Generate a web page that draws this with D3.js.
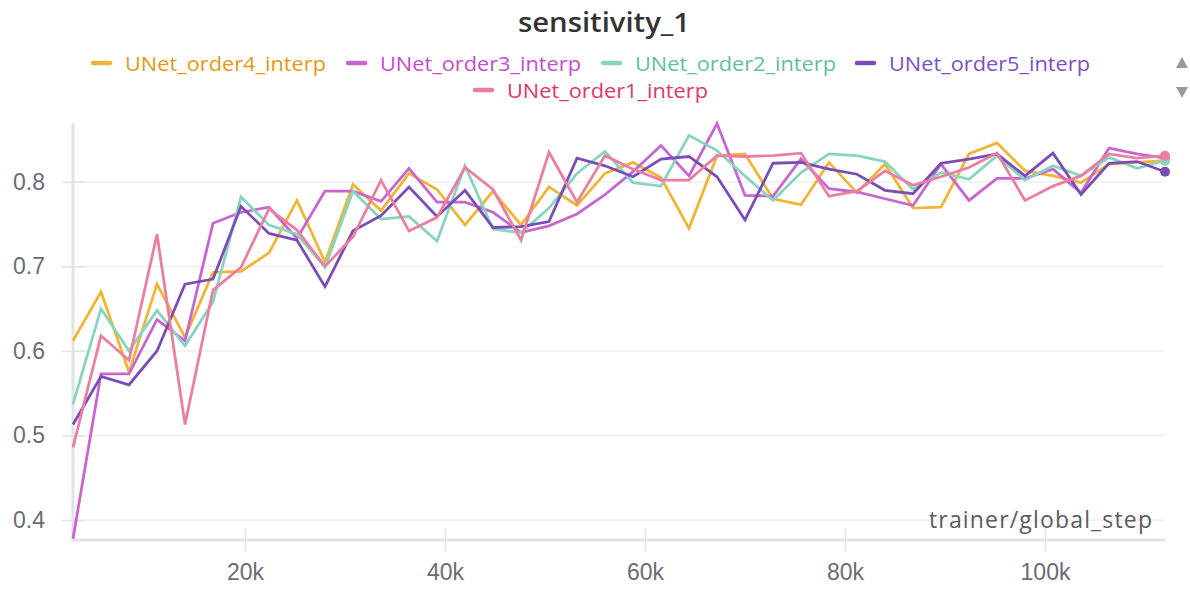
<!DOCTYPE html>
<html>
<head>
<meta charset="utf-8">
<script src="https://cdn.jsdelivr.net/npm/d3@7"></script>
<style>
  html, body { margin: 0; padding: 0; background: #fff; }
  svg { display: block; font-family: "Open Sans", "Noto Sans", sans-serif; }
</style>
</head>
<body>
<svg id="chart" width="1190" height="592"></svg>
<script>
// training steps (x values)
const steps = [2800, 5600, 8400, 11200, 14000, 16800, 19600, 22400, 25200, 28000,
  30800, 33600, 36400, 39200, 42000, 44800, 47600, 50400, 53200, 56000,
  58800, 61600, 64400, 67200, 70000, 72800, 75600, 78400, 81200, 84000,
  86800, 89600, 92400, 95200, 98000, 100800, 103600, 106400, 109200, 112000];

const order4 = [0.612, 0.670, 0.575, 0.679, 0.616, 0.693, 0.694, 0.716, 0.778, 0.705,
  0.797, 0.766, 0.810, 0.791, 0.749, 0.789, 0.749, 0.794, 0.772, 0.810,
  0.823, 0.805, 0.745, 0.831, 0.833, 0.780, 0.773, 0.823, 0.787, 0.821,
  0.769, 0.770, 0.833, 0.846, 0.813, 0.807, 0.799, 0.821, 0.823, 0.825];

const order3 = [0.378, 0.573, 0.573, 0.637, 0.612, 0.751, 0.764, 0.770, 0.733, 0.789,
  0.789, 0.777, 0.816, 0.776, 0.776, 0.764, 0.740, 0.748, 0.762, 0.785,
  0.812, 0.843, 0.807, 0.869, 0.784, 0.783, 0.827, 0.792, 0.788, 0.780,
  0.772, 0.821, 0.778, 0.804, 0.804, 0.815, 0.787, 0.840, 0.833, 0.828];

const order2 = [0.537, 0.650, 0.600, 0.648, 0.606, 0.658, 0.782, 0.749, 0.738, 0.699,
  0.789, 0.756, 0.759, 0.730, 0.819, 0.744, 0.740, 0.769, 0.810, 0.836,
  0.799, 0.795, 0.855, 0.837, 0.807, 0.778, 0.811, 0.833, 0.831, 0.824,
  0.791, 0.811, 0.803, 0.831, 0.802, 0.819, 0.807, 0.829, 0.816, 0.825];

const order5 = [0.513, 0.570, 0.560, 0.600, 0.679, 0.685, 0.771, 0.739, 0.731, 0.676,
  0.742, 0.760, 0.794, 0.759, 0.790, 0.746, 0.747, 0.753, 0.828, 0.819,
  0.806, 0.827, 0.830, 0.806, 0.755, 0.822, 0.823, 0.815, 0.809, 0.790,
  0.786, 0.822, 0.827, 0.833, 0.807, 0.834, 0.785, 0.822, 0.824, 0.812];

const order1 = [0.486, 0.618, 0.589, 0.738, 0.513, 0.672, 0.699, 0.768, 0.743, 0.700,
  0.735, 0.802, 0.742, 0.758, 0.817, 0.791, 0.731, 0.835, 0.776, 0.831,
  0.815, 0.802, 0.802, 0.831, 0.830, 0.831, 0.834, 0.783, 0.789, 0.813,
  0.796, 0.806, 0.817, 0.834, 0.778, 0.795, 0.807, 0.833, 0.828, 0.831];

const seriesNames = ["UNet_order4_interp", "UNet_order3_interp", "UNet_order2_interp", "UNet_order5_interp", "UNet_order1_interp"];
const seriesValues = [order4, order3, order2, order5, order1];
const lineColors = ["#f1b534", "#c965d1", "#88d4c3", "#7b4db6", "#eb7ea3"];
const textColors = ["#e39a10", "#c24dd0", "#5fbfa6", "#7c4fc5", "#e2366e"];

const xTicks = [20000, 40000, 60000, 80000, 100000];
const yTicks = [0.4, 0.5, 0.6, 0.7, 0.8];

const svg = d3.select("#chart");
const plotLeft = 73, plotRight = 1165, plotTop = 123, plotBottom = 540;

const x = d3.scaleLinear().domain([2800, 112000]).range([plotLeft, plotRight]);
const y = d3.scaleLinear().domain([0.3764, 0.8696]).range([plotBottom, plotTop]);

// title
svg.append("text")
  .attr("x", 604).attr("y", 32)
  .attr("text-anchor", "middle")
  .attr("font-size", 27).attr("font-weight", 600)
  .attr("fill", "#333")
  .attr("textLength", 172)
  .attr("lengthAdjust", "spacingAndGlyphs")
  .text("sensitivity_1");

// legend
const legendRows = [
  [{i: 0, x: 92}, {i: 1, x: 347}, {i: 2, x: 602}, {i: 3, x: 856}],
  [{i: 4, x: 474}]
];
legendRows.forEach((row, r) => {
  const ly = 63 + r * 27;
  row.forEach(item => {
    svg.append("line")
      .attr("x1", item.x + 1).attr("x2", item.x + 18)
      .attr("y1", ly).attr("y2", ly)
      .attr("stroke", lineColors[item.i]).attr("stroke-width", 4.5)
      .attr("stroke-linecap", "round");
    svg.append("text")
      .attr("x", item.x + 33).attr("y", ly + 7.5)
      .attr("font-size", 20.5)
      .attr("fill", textColors[item.i])
      .attr("textLength", 201)
      .attr("lengthAdjust", "spacingAndGlyphs")
      .text(seriesNames[item.i]);
  });
});

// scroll arrows beside the legend
svg.append("path").attr("d", "M1176,68 L1182,57 L1188,68 Z").attr("fill", "#9a9a9a");
svg.append("path").attr("d", "M1176,87 L1182,98 L1188,87 Z").attr("fill", "#9a9a9a");

// gridlines
svg.append("g").selectAll("line").data(yTicks).join("line")
  .attr("x1", plotLeft).attr("x2", plotRight)
  .attr("y1", d => y(d)).attr("y2", d => y(d))
  .attr("stroke", "#ececee").attr("stroke-width", 1.2);

// y axis
const yAxis = svg.append("g").attr("transform", `translate(${plotLeft},0)`)
  .call(d3.axisLeft(y).tickValues(yTicks).tickFormat(d3.format(".1f")).tickSize(11).tickPadding(17));
yAxis.select(".domain").remove();
yAxis.selectAll(".tick line").attr("stroke", "#e4e4e8").attr("stroke-width", 1.5).attr("x2", 12).attr("x1", -11);
yAxis.selectAll(".tick text").attr("font-size", 23).attr("fill", "#6b6b76");
svg.append("line").attr("x1", plotLeft).attr("x2", plotLeft).attr("y1", plotTop).attr("y2", plotBottom + 1.5)
  .attr("stroke", "#e3e3e7").attr("stroke-width", 3);

// x axis
const xAxis = svg.append("g").attr("transform", `translate(0,${plotBottom})`)
  .call(d3.axisBottom(x).tickValues(xTicks).tickFormat(d => (d / 1000) + "k").tickSize(12).tickPadding(12));
xAxis.select(".domain").remove();
xAxis.selectAll(".tick line").attr("stroke", "#e4e4e8").attr("stroke-width", 1.5).attr("y1", -12);
xAxis.selectAll(".tick text").attr("font-size", 23).attr("fill", "#6b6b76");
svg.append("line").attr("x1", plotLeft - 1.5).attr("x2", plotRight).attr("y1", plotBottom).attr("y2", plotBottom)
  .attr("stroke", "#e3e3e7").attr("stroke-width", 3);

// x axis title
svg.append("text")
  .attr("x", 1152).attr("y", 528)
  .attr("text-anchor", "end")
  .attr("font-size", 23)
  .attr("fill", "#5a5a63")
  .attr("textLength", 223)
  .text("trainer/global_step");

// series lines
const line = d3.line().x((d, k) => x(steps[k])).y(d => y(d));
const plot = svg.append("g");
seriesValues.forEach((vals, s) => {
  plot.append("path")
    .datum(vals)
    .attr("fill", "none")
    .attr("stroke", lineColors[s])
    .attr("stroke-width", 2.8)
    .attr("stroke-linejoin", "miter")
    .attr("d", line);
});

// end-point markers
seriesValues.forEach((vals, s) => {
  plot.append("circle")
    .attr("cx", x(steps[steps.length - 1]))
    .attr("cy", y(vals[vals.length - 1]))
    .attr("r", 5)
    .attr("fill", lineColors[s]);
});
</script>
</body>
</html>
